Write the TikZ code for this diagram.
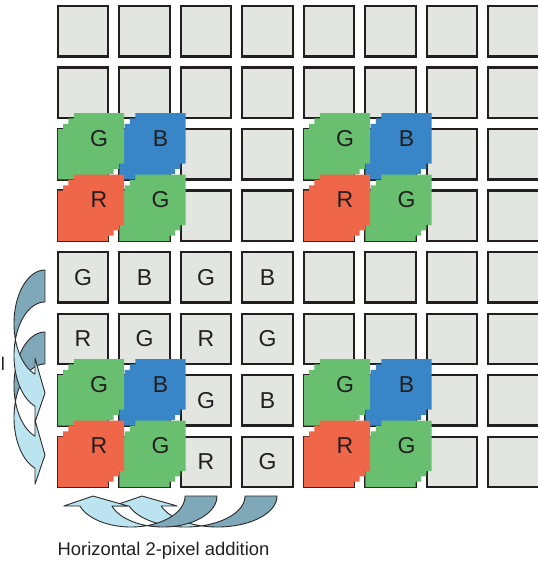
\documentclass[tikz,border=0pt]{standalone}
\usepackage{fontspec}
\setmainfont{Liberation Sans}
\definecolor{cellfill}{HTML}{E3E6E0}
\definecolor{cellline}{HTML}{231F20}
\definecolor{bggreen}{HTML}{67BF6F}
\definecolor{bgblue}{HTML}{3886C7}
\definecolor{bgred}{HTML}{F06648}
\definecolor{arrdark}{HTML}{7FA9B9}
\definecolor{arrlight}{HTML}{BBE3F0}
\definecolor{arrline}{HTML}{2B2B2B}
\tikzset{
  cellbox/.style={fill=cellfill, draw=cellline, line width=2.2pt, minimum width=50.4pt, minimum height=50.4pt, inner sep=0pt, outer sep=0pt, anchor=north west},
  pixblock/.style={fill=#1},
  pixletter/.style={font=\fontsize{23}{23}\selectfont, text=cellline, inner sep=0pt},
  captiontext/.style={font=\fontsize{18.4}{20}\selectfont, text=cellline, inner sep=0pt},
  arrfront/.style={fill=arrlight, draw=arrline, line width=0.9pt, line join=round},
  arrback/.style={fill=arrdark, draw=arrline, line width=0.9pt, line join=round},
}
\newcommand{\pblock}[5]{%
  \pgfmathsetmacro\bx{57.8+61.5*#1}%
  \pgfmathsetmacro\by{6.1+61.5*#2}%
  \def\bs{50.4}\def\bd{5.333}%
  \fill[pixblock=#3] (\bx,\by+\bs) -- (\bx,\by) -- ++(\bd,0) -- ++(0,-\bd) -- ++(\bd,0) -- ++(0,-\bd) -- ++(\bd,0) -- ++(0,-\bd) -- ++(\bs,0) -- ++(0,\bs) -- ++(-\bd,0) -- ++(0,\bd) -- ++(-\bd,0) -- ++(0,\bd) -- ++(-\bd,0) -- ++(0,\bd) -- cycle;
  \node[pixletter] (#5) at (\bx+3*\bd+\bs/2, \by-3*\bd+\bs/2) {#4};
}
\newcommand{\curvarrow}[6]{%
\begin{scope}[#1]
\pgfmathsetmacro\aW{#2}
\pgfmathsetmacro\aH{#3}
\pgfmathsetmacro\ath{#4}
\pgfmathsetmacro\aaw{#5}
\pgfmathsetmacro\aah{#6}
\pgfmathsetmacro\ahR{\aH/2-(\ath+\aaw)/4}
\pgfmathsetmacro\adya{sqrt(\aW*\aW-\aah*\aah)*\ahR/\aW}
\pgfmathsetmacro\axa{\aW-\aah}
\pgfmathsetmacro\ayfive{\ahR+\adya}
\pgfmathsetmacro\ayseven{\ahR+\ath+\adya}
\pgfmathsetmacro\adh{(\aaw-\ath)/2}
\pgfmathsetmacro\ayfour{\ayfive-\adh}
\pgfmathsetmacro\ayeight{\ayseven+\adh}
\pgfmathsetmacro\aysix{\aH-\aaw/2}
\pgfmathsetmacro\aphi{acos(\aah/\aW)}
\pgfmathsetmacro\aalpha{asin(\ath/(2*\ahR))}
\filldraw[arrfront] plot[domain=0:1,samples=40] ({\aW+\aW*cos(180-\aalpha+(\aalpha-\aphi)*\x)},{\ahR+\ahR*sin(180-\aalpha+(\aalpha-\aphi)*\x)}) -- (\axa,\ayfour) -- (\aW,\aysix) -- (\axa,\ayeight) -- (\axa,\ayseven) -- plot[domain=0:1,samples=40] ({\aW+\aW*cos(180-\aphi+(\aphi+\aalpha)*\x)},{\ahR+\ath+\ahR*sin(180-\aphi+(\aphi+\aalpha)*\x)}) -- cycle;
\filldraw[arrback] plot[domain=0:1,samples=40] ({\aW+\aW*cos(270-(90+\aalpha)*\x)},{\ahR+\ahR*sin(270-(90+\aalpha)*\x)}) -- plot[domain=0:1,samples=40] ({\aW+\aW*cos(180+\aalpha+(90-\aalpha)*\x)},{\ahR+\ath+\ahR*sin(180+\aalpha+(90-\aalpha)*\x)}) -- cycle;
\end{scope}}
\begin{document}
\begin{tikzpicture}[x=1pt,y=-1pt]
\useasboundingbox (0,0) rectangle (537,561);
% grid of cells
\foreach \i in {0,...,7}{\foreach \j in {0,...,7}{
  \node[cellbox] (c\i\j) at (57.8+61.5*\i, 6.1+61.5*\j) {};
}}
% letters in plain cells
\node[pixletter] (t04) at (c04.center) {G};
\node[pixletter] (t14) at (c14.center) {B};
\node[pixletter] (t24) at (c24.center) {G};
\node[pixletter] (t34) at (c34.center) {B};
\node[pixletter] (t05) at (c05.center) {R};
\node[pixletter] (t15) at (c15.center) {G};
\node[pixletter] (t25) at (c25.center) {R};
\node[pixletter] (t35) at (c35.center) {G};
\node[pixletter] (t26) at (c26.center) {G};
\node[pixletter] (t36) at (c36.center) {B};
\node[pixletter] (t27) at (c27.center) {R};
\node[pixletter] (t37) at (c37.center) {G};
% coloured 2x2 groups (order: B, lower G, upper G, R)
\pblock{1}{2}{bgblue}{B}{bA}
\pblock{1}{3}{bggreen}{G}{gA2}
\pblock{0}{2}{bggreen}{G}{gA1}
\pblock{0}{3}{bgred}{R}{rA}
\pblock{5}{2}{bgblue}{B}{bB}
\pblock{5}{3}{bggreen}{G}{gB2}
\pblock{4}{2}{bggreen}{G}{gB1}
\pblock{4}{3}{bgred}{R}{rB}
\pblock{1}{6}{bgblue}{B}{bC}
\pblock{1}{7}{bggreen}{G}{gC2}
\pblock{0}{6}{bggreen}{G}{gC1}
\pblock{0}{7}{bgred}{R}{rC}
\pblock{5}{6}{bgblue}{B}{bD}
\pblock{5}{7}{bggreen}{G}{gD2}
\pblock{4}{6}{bggreen}{G}{gD1}
\pblock{4}{7}{bgred}{R}{rD}
% vertical curved arrows
\curvarrow{xshift=14pt,yshift=-332pt}{31}{155}{32}{64}{10}
\curvarrow{xshift=14pt,yshift=-270pt}{31}{155}{32}{64}{10}
% horizontal curved arrows
\curvarrow{x={(0pt,1pt)},y={(-1pt,0pt)},xshift=277pt,yshift=-527pt}{31}{167}{32}{64}{10}
\curvarrow{x={(0pt,1pt)},y={(-1pt,0pt)},xshift=217pt,yshift=-527pt}{31}{156}{32}{64}{10}
% labels
\node[captiontext, anchor=base west] (hlabel) at (57.5,555) {Horizontal 2-pixel addition};
\node[captiontext, anchor=base west] (vlabel) at (0.8,370) {l};
\end{tikzpicture}
\end{document}
